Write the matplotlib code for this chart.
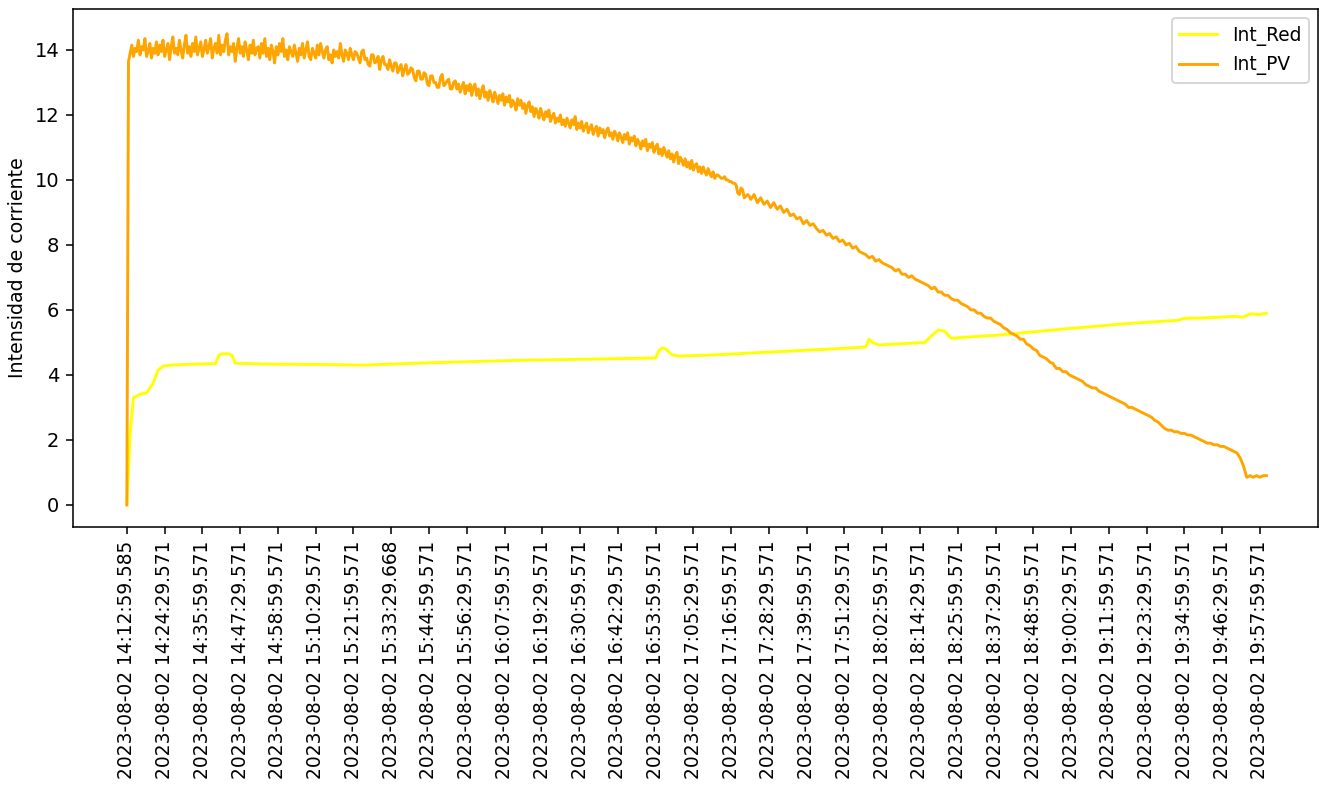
import matplotlib
matplotlib.use("Agg")
import matplotlib.pyplot as plt
import numpy as np
import pandas as pd

# Sampling start and tick labels on the time axis
start_time = "2023-08-02 14:12:59.585"
tick_labels = [
    "2023-08-02 14:12:59.585", "2023-08-02 14:24:29.571", "2023-08-02 14:35:59.571",
    "2023-08-02 14:47:29.571", "2023-08-02 14:58:59.571", "2023-08-02 15:10:29.571",
    "2023-08-02 15:21:59.571", "2023-08-02 15:33:29.668", "2023-08-02 15:44:59.571",
    "2023-08-02 15:56:29.571", "2023-08-02 16:07:59.571", "2023-08-02 16:19:29.571",
    "2023-08-02 16:30:59.571", "2023-08-02 16:42:29.571", "2023-08-02 16:53:59.571",
    "2023-08-02 17:05:29.571", "2023-08-02 17:16:59.571", "2023-08-02 17:28:29.571",
    "2023-08-02 17:39:59.571", "2023-08-02 17:51:29.571", "2023-08-02 18:02:59.571",
    "2023-08-02 18:14:29.571", "2023-08-02 18:25:59.571", "2023-08-02 18:37:29.571",
    "2023-08-02 18:48:59.571", "2023-08-02 19:00:29.571", "2023-08-02 19:11:59.571",
    "2023-08-02 19:23:29.571", "2023-08-02 19:34:59.571", "2023-08-02 19:46:29.571",
    "2023-08-02 19:57:59.571",
]

# Int_PV, first part: one reading every 30 s (minutes 0 to 189.5)
int_pv_fast = [
    0.0, 13.65, 13.9, 14.15, 13.8, 14.05, 13.95, 14.3, 13.85, 14.1,
    14.0, 14.35, 13.8, 13.95, 14.2, 13.75, 14.05, 13.9, 14.25, 13.85,
    14.15, 13.95, 14.3, 13.8, 14.0, 14.2, 13.7, 14.1, 14.4, 13.9,
    14.05, 13.85, 14.3, 14.0, 13.75, 14.15, 14.45, 13.9, 14.1, 13.8,
    14.2, 13.95, 14.4, 13.85, 14.05, 14.25, 13.8, 14.0, 14.3, 13.9,
    14.1, 14.35, 13.75, 14.05, 14.2, 13.9, 14.45, 13.85, 14.15, 13.95,
    14.3, 14.5, 13.85, 14.1, 13.95, 14.2, 13.65, 14.05, 14.35, 13.9,
    14.1, 13.8, 14.25, 14.0, 13.7, 14.15, 13.9, 14.3, 13.85, 14.05,
    14.1, 13.75, 14.2, 13.9, 14.35, 13.8, 14.05, 13.7, 14.15, 13.95,
    13.6, 14.1, 13.85, 14.2, 13.95, 14.35, 13.8, 14.0, 13.7, 14.1,
    13.95, 13.8, 14.15, 13.9, 13.65, 14.05, 13.85, 14.2, 13.75, 14.0,
    14.25, 13.8, 13.7, 14.05, 13.9, 13.75, 14.15, 13.85, 14.2, 13.95,
    13.75, 14.0, 14.1, 13.7, 13.85, 13.6, 14.0, 13.8, 13.95, 13.75,
    14.2, 13.85, 13.65, 14.0, 13.9, 13.7, 14.05, 13.85, 13.7, 13.95,
    13.9, 13.75, 13.6, 13.95, 14.0, 13.7, 13.75, 13.55, 13.5, 13.85,
    13.85, 13.6, 13.65, 13.8, 13.4, 13.7, 13.8, 13.55, 13.55, 13.4,
    13.7, 13.5, 13.35, 13.6, 13.6, 13.3, 13.45, 13.55, 13.2, 13.4,
    13.55, 13.25, 13.3, 13.45, 13.4, 13.15, 13.05, 13.35, 13.35, 13.1,
    13.1, 13.3, 13.25, 12.95, 12.9, 13.2, 13.2, 13.0, 13.0, 12.85,
    12.85, 13.15, 13.25, 12.9, 12.95, 13.05, 13.1, 12.8, 12.8, 13.0,
    13.05, 12.8, 12.95, 12.7, 12.85, 13.0, 12.65, 12.9, 12.75, 12.95,
    12.6, 12.85, 12.95, 12.6, 12.8, 12.5, 12.75, 12.9, 12.55, 12.7,
    12.45, 12.75, 12.6, 12.4, 12.7, 12.55, 12.35, 12.6, 12.45, 12.65,
    12.3, 12.55, 12.4, 12.6, 12.25, 12.45, 12.35, 12.15, 12.5, 12.3,
    12.45, 12.2, 12.35, 12.05, 12.3, 12.4, 12.1, 12.25, 11.95, 12.2,
    12.1, 11.9, 12.2, 12.0, 11.85, 12.1, 11.95, 12.15, 11.8, 11.95,
    12.05, 11.75, 11.9, 11.8, 12.0, 11.7, 11.85, 11.65, 11.9, 11.75,
    11.6, 11.85, 11.7, 11.95, 11.55, 11.75, 11.6, 11.8, 11.5, 11.65,
    11.75, 11.45, 11.6, 11.7, 11.4, 11.55, 11.65, 11.35, 11.6, 11.45,
    11.55, 11.3, 11.5, 11.6, 11.35, 11.45, 11.25, 11.5, 11.4, 11.2,
    11.45, 11.3, 11.15, 11.4, 11.25, 11.45, 11.1, 11.3, 11.2, 11.35,
    11.05, 11.25, 11.15, 10.95, 11.2, 11.05, 11.25, 10.9, 11.1, 11.0,
    11.15, 10.85, 11.0, 11.1, 10.8, 10.95, 10.75, 11.0, 10.85, 10.7,
    10.9, 10.65, 10.8, 10.55, 10.75, 10.85, 10.5, 10.7, 10.6, 10.45,
    10.65, 10.4, 10.55, 10.35, 10.6, 10.3, 10.45, 10.5, 10.25, 10.4,
    10.2, 10.4, 10.25, 10.15, 10.35, 10.2, 10.1, 10.25, 10.05, 10.15,
    10.15, 10.1, 10.05, 10.05, 10.1, 10.0, 10.0, 9.95, 9.95, 9.9,
    9.9, 9.85, 9.6, 9.55, 9.75, 9.7, 9.45, 9.5, 9.55, 9.5,
]

# Int_PV, second part: one reading per minute (minutes 190 to 347)
int_pv_slow = [
    9.4, 9.55, 9.3, 9.45, 9.25, 9.35, 9.15, 9.3, 9.1, 9.2,
    9.0, 9.1, 8.9, 8.95, 8.8, 8.85, 8.65, 8.75, 8.6, 8.65,
    8.5, 8.4, 8.45, 8.3, 8.35, 8.2, 8.25, 8.1, 8.15, 8.0,
    8.05, 7.9, 7.95, 7.8, 7.75, 7.7, 7.6, 7.65, 7.5, 7.55,
    7.45, 7.4, 7.35, 7.3, 7.2, 7.25, 7.1, 7.1, 7.0, 7.05,
    6.95, 6.9, 6.85, 6.8, 6.75, 6.65, 6.7, 6.55, 6.55, 6.45,
    6.45, 6.35, 6.3, 6.3, 6.2, 6.15, 6.1, 6.0, 6.0, 5.9,
    5.9, 5.8, 5.75, 5.75, 5.65, 5.6, 5.55, 5.45, 5.4, 5.3,
    5.25, 5.2, 5.1, 5.1, 4.95, 4.9, 4.8, 4.75, 4.6, 4.55,
    4.5, 4.4, 4.35, 4.2, 4.2, 4.1, 4.1, 4.0, 3.95, 3.9,
    3.85, 3.8, 3.7, 3.65, 3.6, 3.6, 3.5, 3.45, 3.4, 3.35,
    3.3, 3.25, 3.2, 3.15, 3.1, 3.0, 3.0, 2.95, 2.9, 2.85,
    2.8, 2.75, 2.7, 2.6, 2.55, 2.45, 2.35, 2.3, 2.3, 2.25,
    2.25, 2.2, 2.2, 2.15, 2.15, 2.1, 2.05, 2.0, 1.95, 1.9,
    1.9, 1.85, 1.85, 1.8, 1.8, 1.75, 1.7, 1.65, 1.6, 1.45,
    1.2, 0.85, 0.9, 0.85, 0.9, 0.85, 0.9, 0.9,
]

# Int_Red: readings at the listed minutes from the start
red_minutes = [
    0, 1, 2, 4, 6, 8, 9.5, 11, 13, 20, 27, 28, 29, 31, 32, 33, 45, 60, 72, 85,
    101, 120, 144, 161, 162, 163, 164, 166, 168, 180, 195, 215, 225, 226, 227,
    229, 243, 245, 247, 249, 251, 266, 286, 306, 320, 322, 330, 337, 340, 342,
    345, 347,
]
int_red = [
    0.0, 2.2, 3.3, 3.4, 3.45, 3.75, 4.15, 4.27, 4.3, 4.33, 4.35, 4.6, 4.65, 4.65,
    4.6, 4.36, 4.33, 4.32, 4.3, 4.35, 4.4, 4.45, 4.49, 4.52, 4.75, 4.83, 4.8,
    4.62, 4.58, 4.62, 4.7, 4.8, 4.86, 5.1, 5.0, 4.92, 5.0, 5.2, 5.38, 5.35,
    5.13, 5.23, 5.42, 5.59, 5.68, 5.74, 5.76, 5.8, 5.78, 5.88, 5.86, 5.9,
]

t0 = pd.Timestamp(start_time)
pv_minutes = np.concatenate([
    np.arange(len(int_pv_fast)) * 0.5,
    190 + np.arange(len(int_pv_slow)),
])
int_pv = int_pv_fast + int_pv_slow
tick_pos = [(pd.Timestamp(s) - t0).total_seconds() / 60.0 for s in tick_labels]

fig = plt.figure(figsize=(1323 / 140, 785 / 140), dpi=140)
ax = fig.add_axes([73 / 1323, 1 - 527 / 785, (1318 - 73) / 1323, (527 - 9) / 785])

ax.plot(red_minutes, int_red, color="yellow", label="Int_Red")
ax.plot(pv_minutes, int_pv, color="orange", label="Int_PV")

ax.set_xticks(tick_pos)
ax.set_xticklabels(tick_labels, rotation=90, fontsize=9.6)
ax.set_xlim(-16.4, 362.7)
ax.set_ylim(-0.68, 15.26)
ax.set_yticks([0, 2, 4, 6, 8, 10, 12, 14])
ax.set_ylabel("Intensidad de corriente", fontsize=9.8)
ax.legend(loc="upper right", fontsize=9.6)

fig.savefig("out.png", dpi=140)
